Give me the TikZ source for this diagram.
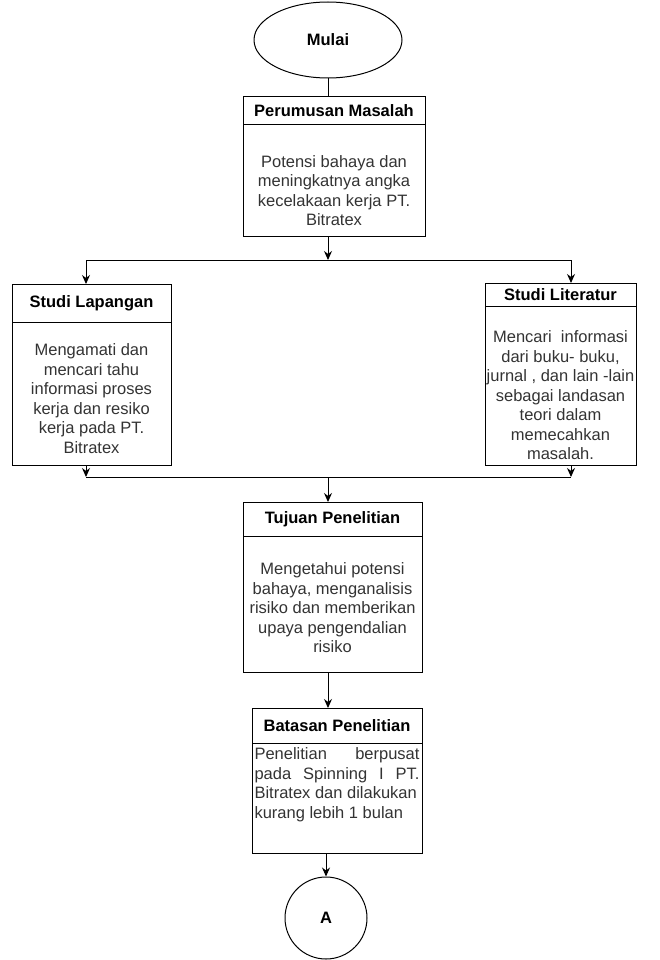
\documentclass[tikz,border=0pt]{standalone}
\usepackage{fontspec}
\setmainfont{Liberation Sans}
\usetikzlibrary{positioning,shapes.geometric,arrows.meta}

\begin{document}
\begin{tikzpicture}[x=1pt, y=-1pt, line width=1pt,
    every node/.style={font=\fontsize{16.5}{19.5}\selectfont},
    head/.style={draw, rectangle, inner sep=1pt, outer sep=0pt, anchor=north,
                 font=\fontsize{16.5}{19.5}\selectfont\bfseries},
    body/.style={draw, rectangle, inner sep=1pt, outer sep=0pt, align=center, text=black!80},
    flow/.style={-{Stealth[length=9pt,width=8pt]}}]

  \useasboundingbox (0,0) rectangle (659,960);

  \node[draw, ellipse, minimum width=148pt, minimum height=76pt, inner sep=0pt,
        font=\fontsize{16.5}{19.5}\selectfont\bfseries] (mulai) at (328,40) {Mulai};

  \node[head, minimum width=182pt, minimum height=28pt] (pm-head) at (334,97) {Perumusan Masalah};
  \node[body, minimum width=182pt, minimum height=111pt, below=0pt of pm-head] (pm-body)
    {\rule{0pt}{32pt}Potensi bahaya dan\\ meningkatnya angka\\ kecelakaan kerja PT.\\ Bitratex};

  \node[head, minimum width=159pt, minimum height=38pt] (sl-head) at (91.5,284) {Studi Lapangan};
  \node[body, minimum width=159pt, minimum height=143pt, below=0pt of sl-head] (sl-body)
    {\rule{0pt}{22pt}Mengamati dan\\ mencari tahu\\ informasi proses\\ kerja dan resiko\\ kerja pada PT.\\ Bitratex};

  \node[head, minimum width=151pt, minimum height=23pt] (lit-head) at (560.5,283) {Studi Literatur};
  \node[body, minimum width=151pt, minimum height=159pt, below=0pt of lit-head] (lit-body)
    {\rule{0pt}{32pt}Mencari~ informasi\\ dari buku- buku,\\ jurnal , dan lain -lain\\ sebagai landasan\\ teori dalam\\ memecahkan\\ masalah.};

  \node[head, minimum width=179pt, minimum height=34pt] (tp-head) at (332.5,502) {Tujuan Penelitian};
  \node[body, minimum width=179pt, minimum height=136pt, below=0pt of tp-head] (tp-body)
    {\rule{0pt}{20pt}Mengetahui potensi\\ bahaya, menganalisis\\ risiko dan memberikan\\ upaya pengendalian\\ risiko};

  \node[head, minimum width=170pt, minimum height=35pt] (bp-head) at (337,708) {Batasan Penelitian};
  \node[body, minimum width=170pt, minimum height=110pt, align=left, below=0pt of bp-head] (bp-body)
    {\makebox[165pt][s]{Penelitian berpusat}\\ \makebox[165pt][s]{pada Spinning I PT.}\\
     Bitratex dan dilakukan\\ kurang lebih 1 bulan\rule[-30pt]{0pt}{0pt}};

  \node[draw, circle, minimum size=82pt, inner sep=0pt,
        font=\fontsize{16.5}{19.5}\selectfont\bfseries] (akhir) at (326,918) {A};

  \coordinate (split) at (328,260);
  \coordinate (merge) at (328,477);
  \coordinate (sl-in)  at ([xshift=-5.5pt]sl-head.north);
  \coordinate (lit-in) at ([xshift=10.5pt]lit-head.north);

  \draw (mulai.south) -- (mulai.south |- pm-head.north);
  \draw[flow] (pm-body.south -| split) -- (split);
  \draw[flow] (split) -| (sl-in);
  \draw[flow] (split) -| (lit-in);

  \draw[flow] (sl-body.south -| sl-in) -- (merge -| sl-in);
  \draw[flow] (lit-body.south -| lit-in) -- (merge -| lit-in);
  \draw (merge -| sl-in) -- (merge -| lit-in);
  \draw[flow] (merge) -- (merge |- tp-head.north);

  \draw[flow] (tp-body.south -| mulai) -- (bp-head.north -| mulai);
  \draw[flow] (bp-body.south -| akhir) -- (akhir);
\end{tikzpicture}
\end{document}
